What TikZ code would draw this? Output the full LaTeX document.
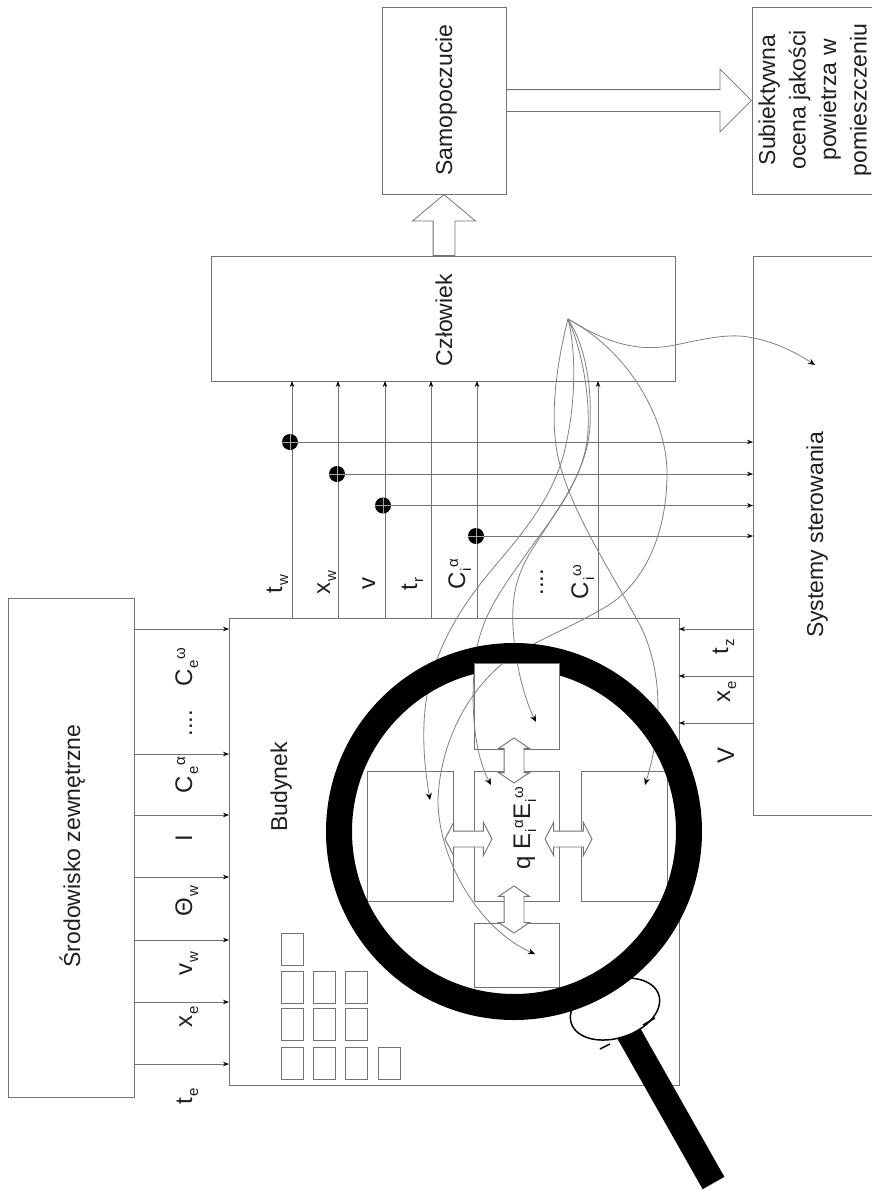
\documentclass[tikz,border=0pt]{standalone}
\usepackage{fontspec}
\setmainfont{Liberation Sans}
\usetikzlibrary{arrows.meta,shapes.geometric,shapes.arrows,calc}
\newcommand\szs{\fontsize{15}{15}\selectfont}
\newcommand\lbl[3]{#1\kern1pt\raisebox{-6pt}{\szs #2}\kern1pt\raisebox{7pt}{\szs #3}}
\newcommand\lblb[2]{#1\kern1pt\raisebox{-6pt}{\szs #2}}
\newcommand\boxn[6][box]{\node[#1,minimum width={(#5-#3)*1pt},minimum height={(#6-#4)*1pt}] (#2) at ({(#3+#5)/2},{(#4+#6)/2}) {};}
\colorlet{ln}{black!55}
\colorlet{txt}{black!88}
\tikzset{
  box/.style={draw=ln,fill=white,line width=0.9pt,inner sep=0pt,outer sep=0pt},
  win/.style={draw=ln,line width=0.8pt,inner sep=0pt,outer sep=0pt},
  conn/.style={draw=ln,line width=0.8pt},
  tip/.style={conn,-{Stealth[length=6pt,width=4.5pt,black]}},
  crv/.style={draw=black!50,line width=0.8pt,-{Stealth[length=7pt,width=6pt,black]}},
  lab/.style={rotate=90,anchor=base,text=txt,inner sep=0pt,font=\fontsize{24}{28}\selectfont},
  big/.style={rotate=90,anchor=base,text=txt,inner sep=0pt,font=\fontsize{23}{31}\selectfont},
  dotn/.style={circle,fill=black,minimum size=16pt,inner sep=0pt,outer sep=0pt},
  sarrow/.style={single arrow,draw=ln,fill=white,line width=0.8pt,inner xsep=0pt,anchor=tail,single arrow head indent=0pt},
  darrow/.style={double arrow,draw=ln,fill=white,line width=0.9pt,inner xsep=0pt,double arrow head indent=0pt},
  x=1pt,y=-1pt
}
\newcommand\allcurves{%
  \draw[crv] (hub) .. controls (610,345) and (640,352) .. (675,345) .. controls (700,340) and (730,332) .. (753,338) .. controls (775,342) and (795,352) .. (tSys);
  \draw[crv] (hub) .. controls (630,352) and (667,420) .. (667,473) .. controls (667,540) and (640,590) .. (600,610) .. controls (570,628) and (525,645) .. (503,663) .. controls (465,695) and (440,745) .. (438,800) .. controls (438,860) and (480,930) .. (tBot);
  \draw[crv] (hub) .. controls (555,370) and (550,420) .. (558,457) .. controls (570,510) and (610,570) .. (640,625) .. controls (660,665) and (665,720) .. (tRight);
  \draw[crv] (hub) .. controls (575,345) and (578,400) .. (563,457) .. controls (550,500) and (525,530) .. (500,560) .. controls (470,595) and (440,635) .. (428,690) .. controls (420,730) and (425,770) .. (tLeft);
  \draw[crv] (hub) .. controls (580,345) and (590,390) .. (588,430) .. controls (586,480) and (550,520) .. (527,553) .. controls (505,585) and (480,615) .. (475,660) .. controls (470,710) and (475,755) .. (tMid);
  \draw[crv] (hub) .. controls (585,345) and (592,385) .. (590,425) .. controls (588,470) and (560,505) .. (535,545) .. controls (515,575) and (510,600) .. (514,640) .. controls (517,670) and (525,700) .. (tTop);
}
\begin{document}
\begin{tikzpicture}
\useasboundingbox[fill=white] (0,0) rectangle (872,1192);
% main boxes
\boxn{env}{8}{598}{134}{1097}
\boxn{bud}{229}{618}{679}{1085}
\boxn{czl}{211}{256}{675}{381}
\boxn{sam}{382}{7}{506}{194}
\boxn{sub}{752}{7}{880}{194}
\boxn{sys}{753}{256}{880}{815}
% windows
\foreach \nm/\xa/\ya in {a1/281/933,a2/281/971,a3/281/1008,a4/281/1047,
  b2/313/971,b3/313/1008,b4/313/1047,
  c2/345/971,c3/345/1008,c4/345/1047,d4/378/1047}{
  \boxn[win]{w\nm}{\xa}{\ya}{\xa+22}{\ya+32}
}
% environment to building
\foreach \yy in {629,754,815,877,940,1002,1064}{
  \draw[tip] (env.east |- 0,\yy) -- (bud.west |- 0,\yy);
}
% control system to building
\foreach \yy in {629,676,723}{
  \draw[tip] (sys.west |- 0,\yy) -- (bud.east |- 0,\yy);
}
% building to person
\foreach \xx in {292,338,385,431,477,598}{
  \draw[tip] (bud.north -| \xx,0) -- (czl.south -| \xx,0);
}
% taps
\node[dotn] (d1) at (290,442) {};
\node[dotn] (d2) at (337,474) {};
\node[dotn] (d3) at (383,505.5) {};
\node[dotn] (d4) at (476,536) {};
\foreach \dd in {d1,d2,d3,d4}{
  \draw[black!35,line width=0.6pt] (\dd.west) -- (\dd.east);
  \draw[black!35,line width=0.6pt] (\dd.north) -- (\dd.south);
  \draw[tip] (\dd) -- (sys.west |- \dd);
}
% rooms
\boxn{rl}{367}{771}{453}{901}
\boxn{rm}{474}{771}{559}{901}
\boxn{rr}{581}{771}{667}{901}
\boxn{rb}{474}{923}{559}{987}
\coordinate (hub) at (568,319);
\coordinate (tSys) at (815,365);
\coordinate (tBot) at (535,954);
\coordinate (tRight) at (645,785);
\coordinate (tLeft) at (430,800);
\coordinate (tMid) at (491,785);
\coordinate (tTop) at (536,722);
\allcurves
% magnifier
\coordinate (gripc) at (615,1009);
\coordinate (hEnd) at (713.5,1183);
\draw[black,line width=25pt] (gripc) -- (hEnd);
\node[ellipse,draw=black,fill=white,line width=1.5pt,minimum width=92pt,minimum height=58pt,rotate=18,inner sep=0pt] (grip) at (gripc) {};
\draw[black,line width=1.5pt] (655,1018) -- (643,1025);
\draw[black,line width=1.5pt] (600,1049) -- (610,1044);
\draw[black,line width=26pt] (514,831.5) ellipse [x radius=175,y radius=175.5];
% top room over the ring
\boxn{rt}{474}{663}{559}{749}
\begin{scope}
\clip (rt.north west) rectangle (rt.south east);
\allcurves
\end{scope}
% hollow arrows
\node[sarrow,inner ysep=10.5pt,single arrow head extend=20.5pt,single arrow tip angle=100,minimum height=61pt,rotate=90] (up) at (444,256) {};
\node[sarrow,inner ysep=10.5pt,single arrow head extend=20.5pt,single arrow tip angle=90,minimum height=245pt] (ri) at (506,100.5) {};
\node[darrow,inner ysep=9.5pt,double arrow head extend=5.5pt,double arrow tip angle=112,minimum height=45pt,rotate=90] (da1) at (514,760.5) {};
\node[darrow,inner ysep=9.5pt,double arrow head extend=5.5pt,double arrow tip angle=112,minimum height=47pt,rotate=90] (da2) at (514,909.5) {};
\node[darrow,inner ysep=7.5pt,double arrow head extend=8.5pt,double arrow tip angle=125,minimum height=47pt] (da3) at (468.5,839) {};
\node[darrow,inner ysep=7.5pt,double arrow head extend=8.5pt,double arrow tip angle=125,minimum height=47pt] (da4) at (568.5,839) {};
% main labels
\node[big] (tenv) at (80,846) {Środowisko zewnętrzne};
\node[big] (tbud) at (287,787) {Budynek};
\node[big] (tczl) at (452,320) {Człowiek};
\node[big] (tsam) at (452,100) {Samopoczucie};
\node[big] (tsys) at (823,535) {Systemy sterowania};
\node[rotate=90,align=center,text=txt,inner sep=0pt,font=\fontsize{23}{30.5}\selectfont] (tsub) at (815,100) {Subiektywna\\ocena jakości\\powietrza w\\pomieszczeniu};
\node[lab] (tq) at (530,828) {q \lbl{E}{i}{α}\lbl{E}{i}{ω}};
% outer quantities
\node[lab] (l1) at (192,667) {\lbl{C}{e}{ω}};
\node[lab] (l2) at (192,723) {....};
\node[lab] (l3) at (192,775) {\lbl{C}{e}{α}};
\node[lab] (l4) at (192,838) {I};
\node[lab] (l5) at (192,901) {\lblb{Θ}{w}};
\node[lab] (l6) at (192,964) {\lblb{v}{w}};
\node[lab] (l7) at (192,1017) {\lblb{x}{e}};
\node[lab] (l8) at (192,1096) {\lblb{t}{e}};
% indoor quantities
\node[lab] (m1) at (282,584) {\lblb{t}{w}};
\node[lab] (m2) at (330,583) {\lblb{x}{w}};
\node[lab] (m3) at (375,583) {v};
\node[lab] (m4) at (417,584) {\lblb{t}{r}};
\node[lab] (m5) at (465,574) {\lbl{C}{i}{α}};
\node[lab] (m6) at (543,582) {....};
\node[lab] (m7) at (588,582) {\lbl{C}{i}{ω}};
% control quantities
\node[lab] (n1) at (728,647) {\lblb{t}{z}};
\node[lab] (n2) at (730,692) {\lblb{x}{e}};
\node[lab] (n3) at (734,755) {V};
\end{tikzpicture}
\end{document}
